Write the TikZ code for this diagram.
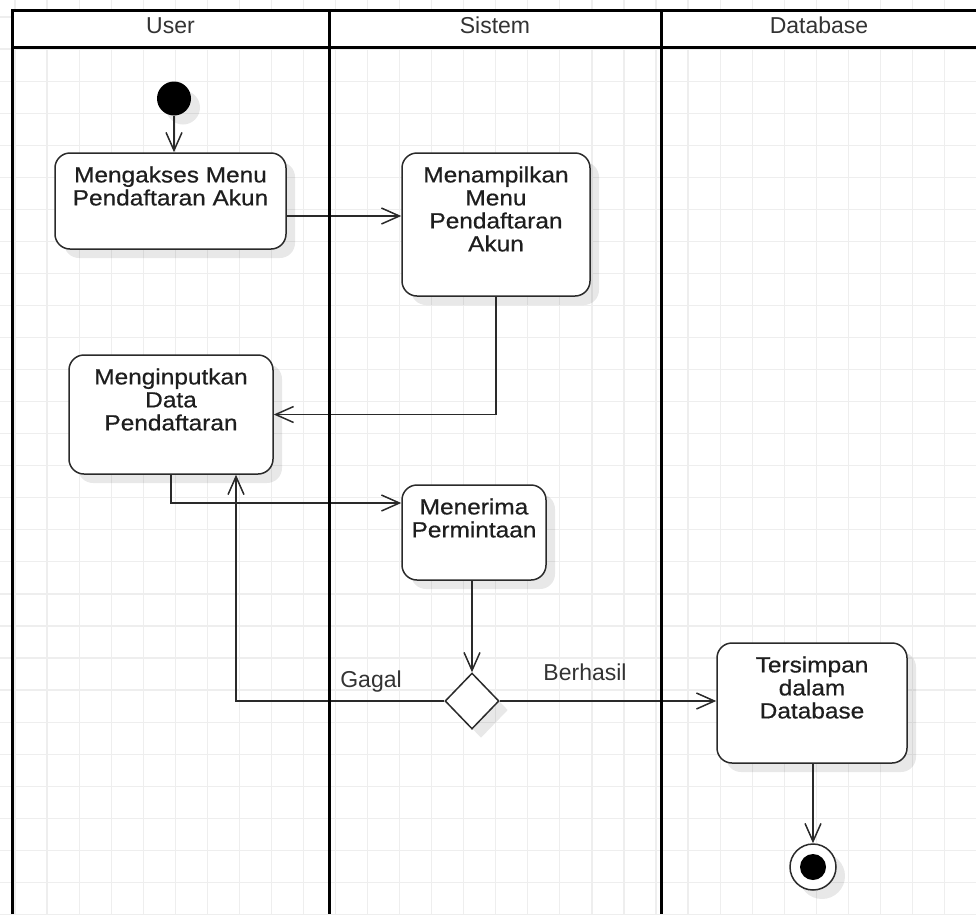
\documentclass[tikz,border=0pt]{standalone}
\usepackage{fontspec}
\setmainfont{Liberation Sans}
\newfontfamily\boxfont[FakeStretch=1.11,FakeBold=0.6]{Liberation Sans}
\usetikzlibrary{arrows.meta,shapes.geometric,shadows,calc}
\definecolor{gridc}{HTML}{EEEEEE}
\definecolor{ink}{HTML}{1E1E1E}
\definecolor{labelc}{HTML}{333333}
\definecolor{edge}{HTML}{2A2A2A}

\tikzset{
  gridline/.style={draw=gridc, line width=1.2pt},
  lane/.style={draw=black, line width=3pt},
  boxshadow/.style={drop shadow={shadow xshift=9pt, shadow yshift=-9pt, opacity=0.09, fill=black}},
  actbox/.style={draw=edge, line width=1.5pt, fill=white, rounded corners=15pt, boxshadow, inner sep=0pt},
  acttext/.style={font=\boxfont\fontsize{22}{23}\selectfont, text=ink, align=center, anchor=north, inner sep=0pt},
  lanelabel/.style={font=\fontsize{23}{23}\selectfont, text=labelc, anchor=base, inner sep=0pt},
  guard/.style={font=\fontsize{23}{23}\selectfont, text=labelc, anchor=base, inner sep=0pt},
  flow/.style={draw=edge, line width=1.5pt, -{Straight Barb[length=18pt,width=16pt]}},
  decision/.style={diamond, draw=edge, line width=1.5pt, fill=white, boxshadow, minimum width=54pt, minimum height=56pt, inner sep=0pt},
  initial/.style={circle, fill=black, minimum size=34pt, inner sep=0pt, boxshadow},
  finalring/.style={circle, draw=edge, line width=1.5pt, fill=white, minimum size=46pt, inner sep=0pt, boxshadow},
  finaldot/.style={circle, fill=black, minimum size=26pt, inner sep=0pt},
}

\begin{document}
\begin{tikzpicture}[x=1pt, y=-1pt]
\useasboundingbox (0,0) rectangle (976,914);
\begin{scope}
\clip (0,0) rectangle (976,914);

% background grid
\foreach \i in {0,...,30}
  \draw[gridline] ({15+32.05*\i},0) -- ({15+32.05*\i},914);
\foreach \j in {0,...,28}
  \draw[gridline] (0,{17+32.05*\j}) -- (976,{17+32.05*\j});

% swimlane header band
\fill[white] (12,10) rectangle (990,47.5);

% activities
\node[actbox, minimum width=231pt, minimum height=96pt] (b1) at (170.5,201) {};
\node[acttext] (b1t) at ([yshift=-14pt]b1.north) {Mengakses Menu\\Pendaftaran Akun};

\node[actbox, minimum width=188pt, minimum height=143pt] (b2) at (496,224.5) {};
\node[acttext] (b2t) at ([yshift=-14pt]b2.north) {Menampilkan\\Menu\\Pendaftaran\\Akun};

\node[actbox, minimum width=204pt, minimum height=119pt] (b3) at (171,414.5) {};
\node[acttext] (b3t) at ([yshift=-14pt]b3.north) {Menginputkan\\Data\\Pendaftaran};

\node[actbox, minimum width=144pt, minimum height=95pt] (b4) at (474,532.5) {};
\node[acttext] (b4t) at ([yshift=-14pt]b4.north) {Menerima\\Permintaan};

\node[actbox, minimum width=190pt, minimum height=120pt] (b5) at (812,703) {};
\node[acttext] (b5t) at ([yshift=-14pt]b5.north) {Tersimpan\\dalam\\Database};

\node[decision] (d) at (472,701) {};

\node[initial] (s) at (174,98.5) {};
\node[finalring] (e) at (813,867) {};
\node[finaldot] (ed) at (e.center) {};

% control flow
\draw[flow] (s.south) -- (s.south |- b1.north);
\draw[flow] ([yshift=-15pt]b1.east) -- ([yshift=-15pt]b1.east -| b2.west);
\draw[flow] (b2.south) |- (b3.east);
\draw[flow] (b3.south) |- ([yshift=29.5pt]b4.west);
\draw[flow] (b4.south -| d.north) -- (d.north);
\draw[flow] (d.east) -- (d.east -| b5.west);
\draw[flow] (d.west) -| ([xshift=65pt]b3.south);
\draw[flow] (b5.south -| e.north) -- (e.north);

\node[guard] (gagal) at (371,687) {Gagal};
\node[guard] (berhasil) at (585,680) {Berhasil};

% swimlane frame
\draw[lane] (12,914) -- (12,10) -- (990,10);
\draw[lane] (12,47.5) -- (990,47.5);
\draw[lane] (329,10) -- (329,914);
\draw[lane] (661,10) -- (661,914);

\node[lanelabel] (lu) at (170.5,33) {User};
\node[lanelabel] (ls) at (495,33) {Sistem};
\node[lanelabel] (ld) at (819,33) {Database};
\end{scope}
\end{tikzpicture}
\end{document}
